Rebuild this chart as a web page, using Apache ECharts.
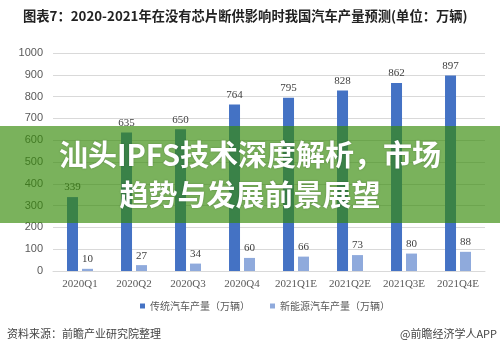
<!DOCTYPE html>
<html>
<head>
<meta charset="utf-8">
<script src="https://cdn.jsdelivr.net/npm/echarts@6/dist/echarts.min.js"></script>
<style>
  html, body { margin: 0; padding: 0; background: #fff; }
  #chart { width: 500px; height: 351px; }
</style>
</head>
<body>
<div id="chart"></div>
<script>
const categories = ['2020Q1', '2020Q2', '2020Q3', '2020Q4', '2021Q1E', '2021Q2E', '2021Q3E', '2021Q4E'];
const fuelCars = [339, 635, 650, 764, 795, 828, 862, 897];
const newEnergyCars = [10, 27, 34, 60, 66, 73, 80, 88];
const seriesNames = ['传统汽车产量（万辆）', '新能源汽车产量（万辆）'];

const cjk = '"Noto Sans CJK SC", "Noto Sans", sans-serif';
const serif = '"Liberation Serif", "DejaVu Serif", serif';

const myChart = echarts.init(document.getElementById('chart'));

const options = {
  animation: false,
  backgroundColor: '#fff',
  textStyle: { fontFamily: cjk },
  grid: { left: 53, right: 15, top: 53, bottom: 80 },
  legend: {
    top: 296,
    left: 135,
    itemWidth: 5,
    itemHeight: 5,
    itemGap: 20,
    icon: 'rect',
    textStyle: { color: '#595959', fontSize: 10, fontFamily: cjk },
    data: seriesNames,
  },
  xAxis: {
    type: 'category',
    data: categories,
    axisTick: { show: false },
    axisLine: { lineStyle: { color: '#d9d9d9' } },
    axisLabel: { color: '#595959', fontSize: 11, fontFamily: serif, margin: 8, interval: 0 },
  },
  yAxis: {
    type: 'value',
    min: 0,
    max: 1000,
    interval: 100,
    axisLine: { show: false },
    axisTick: { show: false },
    axisLabel: {
      color: '#595959',
      fontSize: 11,
      fontFamily: '"Liberation Sans", sans-serif',
      margin: 10,
      formatter: (v) => String(v), // 不要千分位
    },
    splitLine: { lineStyle: { color: '#d9d9d9' } },
  },
  series: [
    {
      name: seriesNames[0],
      type: 'bar',
      data: fuelCars,
      barWidth: 11,
      barGap: '36%',
      itemStyle: { color: '#4472c4' },
      label: { show: true, position: 'top', color: '#404040', fontSize: 11, fontFamily: serif, distance: 4 },
    },
    {
      name: seriesNames[1],
      type: 'bar',
      data: newEnergyCars,
      barWidth: 11,
      itemStyle: { color: '#8faadc' },
      label: { show: true, position: 'top', color: '#404040', fontSize: 11, fontFamily: serif, distance: 4 },
    },
  ],
  graphic: [
    {
      type: 'text',
      left: 23,
      top: 9,
      style: {
        text: '图表7：2020-2021年在没有芯片断供影响时我国汽车产量预测(单位：万辆)',
        fill: '#222',
        font: 'bold 13.3px ' + cjk,
      },
    },
    {
      type: 'text',
      left: 7,
      top: 328,
      style: { text: '资料来源：前瞻产业研究院整理', fill: '#444', font: '11px ' + cjk },
    },
    {
      type: 'text',
      right: 3,
      top: 328,
      style: { text: '@前瞻经济学人APP', fill: '#444', font: '11px ' + cjk },
    },
    {
      type: 'rect',
      left: 0,
      top: 126,
      z: 100,
      shape: { width: 500, height: 97 },
      style: { fill: 'rgba(53,138,8,0.66)' },
    },
    {
      type: 'text',
      x: 250,
      y: 135,
      z: 101,
      style: {
        text: '汕头IPFS技术深度解析，市场\n趋势与发展前景展望',
        fill: '#fff',
        font: 'bold 29px ' + cjk,
        align: 'center',
        verticalAlign: 'top',
        lineHeight: 40,
        textShadowColor: 'rgba(0,0,0,0.25)',
        textShadowBlur: 2,
      },
    },
  ],
};

myChart.setOption(options);
</script>
</body>
</html>
